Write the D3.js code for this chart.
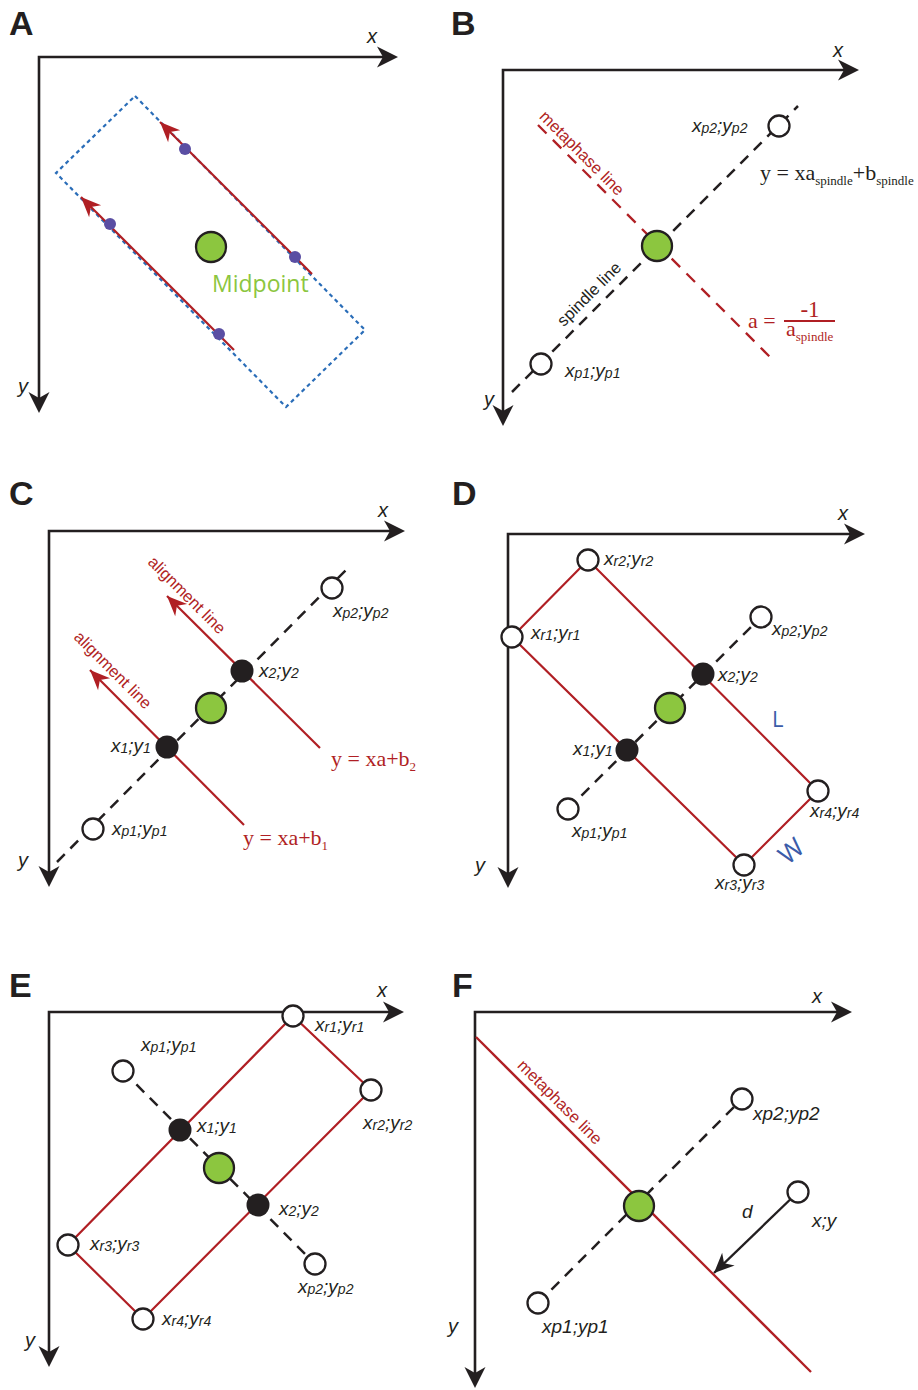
<!DOCTYPE html>
<html><head><meta charset="utf-8">
<script src="https://cdn.jsdelivr.net/npm/d3@7"></script>
<style>body{margin:0;background:#fff}</style>
</head><body>
<svg id="fig" width="918" height="1390"></svg>
<script>
// ================= DATA (diagram units, measured from each panel's axis origin) =================
const panelLetters = ["A","B","C","D","E","F"];
const axisNames = ["x","y"];

// Panel A
const aBox = [[96,39],[326,273],[247,350],[17,116]];
const aTracks = [[[273,217],[121,65]], [[195,293],[42,140]]];
const aSpots = [[146,92],[256,200],[71,167],[180,277]];
const aMidpoint = [172,190];
const aMidText = ["Midpoint"];
const aMidTextPos = [173,235];

// Panel B
const bSpindle = [[9,322],[295,36]];
const bMetaphase = [[35,55],[270,290]];
const bPoles = [[38,294],[276,56]];
const bMidpoint = [154,176];
const bPoleLabels = ["x_p1;y_p1","x_p2;y_p2"];
const bPoleLabelPos = [[62,307],[189,62]];
const bLineNames = ["metaphase line","spindle line"];
const bLineNamePos = [[75,87,45],[90,228,-45]];
const bEquation = ["y = xa_spindle+b_spindle"];
const bEquationPos = [257,110];
const bSlope = ["a =","-1","a_spindle"];
const bSlopePos = [245,258];

// Panel C
const cSpindle = [[8,331],[299,37]];
const cAlign = [[[195,294],[41,139]], [[271,217],[118,65]]];
const cAlignNames = ["alignment line","alignment line"];
const cAlignNamePos = [[60,143,45],[134,68,45]];
const cPoles = [[44,298],[283,57]];
const cPoints = [[118,216],[193,140]];
const cMidpoint = [162,177];
const cLabels = ["x_p1;y_p1","x_p2;y_p2","x_1;y_1","x_2;y_2"];
const cLabelPos = [[63,304],[284,86],[62,221],[210,146]];
const cEquations = ["y = xa+b_1","y = xa+b_2"];
const cEquationPos = [[194,314],[282,235]];

// Panel D
const dRect = [[4,103],[80,26],[310,257],[236,331]];
const dSpindle = [[60,275],[253,83]];
const dPoints = [[119,216],[195,140]];
const dMidpoint = [162,174];
const dLabels = ["x_r1;y_r1","x_r2;y_r2","x_r4;y_r4","x_r3;y_r3","x_p1;y_p1","x_p2;y_p2","x_1;y_1","x_2;y_2"];
const dLabelPos = [[23,105],[96,31],[302,283],[207,355],[64,303],[264,101],[65,221],[210,147]];
const dSides = ["L","W"];
const dSidePos = [[264,193,0],[289,324,-40]];

// Panel E
const eRect = [[244,4],[322,78],[94,307],[19,233]];
const eSpindle = [[74,59],[266,252]];
const ePoints = [[131,118],[209,193]];
const eMidpoint = [170,156];
const eLabels = ["x_r1;y_r1","x_r2;y_r2","x_r4;y_r4","x_r3;y_r3","x_p1;y_p1","x_p2;y_p2","x_1;y_1","x_2;y_2"];
const eLabelPos = [[266,19],[314,117],[113,313],[41,238],[92,39],[249,281],[148,120],[230,203]];

// Panel F
const fMetaphase = [[1,25],[336,360]];
const fMetaName = ["metaphase line"];
const fMetaNamePos = [81,94,45];
const fSpindle = [[63,291],[267,87]];
const fMidpoint = [164,194];
const fPoint = [323,180];
const fFoot = [239,261];
const fLabels = ["xp1;yp1","xp2;yp2","x;y","d"];
const fLabelPos = [[67,321],[278,108],[337,215],[267,206]];

// ================= LAYOUT & STYLE =================
const layout = {
  A:{ox:39, oy:57,  lx:359, ly:356, letter:[9,35],   xl:[328,-14], yl:[-21,336]},
  B:{ox:503,oy:70,  lx:356, ly:356, letter:[451,35], xl:[330,-13], yl:[-19,336]},
  C:{ox:49, oy:531, lx:356, ly:356, letter:[9,505],  xl:[329,-14], yl:[-31,336]},
  D:{ox:508,oy:534, lx:357, ly:354, letter:[452,505],xl:[330,-14], yl:[-33,338]},
  E:{ox:49, oy:1012,lx:355, ly:355, letter:[9,997],  xl:[328,-15], yl:[-24,335]},
  F:{ox:475,oy:1012,lx:377, ly:376, letter:[452,997],xl:[337,-9],  yl:[-27,321]}
};
const INK="#231f20", RED="#b01f24", GREEN="#8cc63f", BLUEDOT="#2a6db8", PURPLE="#5a4ea3", BLUETXT="#3b5ca9";
const SANS="'Liberation Sans', Arial, Helvetica, sans-serif";
const SERIF="'Liberation Serif', 'Times New Roman', serif";
const SOFT="'Open Sans', 'Noto Sans', sans-serif";

const svg = d3.select("#fig");

function arrowHead(g, tip, from, len, hw, notch, color){
  const dx = tip[0]-from[0], dy = tip[1]-from[1];
  const n = Math.hypot(dx,dy), ux = dx/n, uy = dy/n, px = -uy, py = ux;
  const bx = tip[0]-ux*len, by = tip[1]-uy*len;
  const nx = tip[0]-ux*(len-notch), ny = tip[1]-uy*(len-notch);
  const p = d3.path();
  p.moveTo(tip[0],tip[1]);
  p.lineTo(bx+px*hw, by+py*hw);
  p.lineTo(nx,ny);
  p.lineTo(bx-px*hw, by-py*hw);
  p.closePath();
  g.append("path").attr("d", p.toString()).attr("fill", color).attr("stroke","none");
}

function frame(id){
  const L = layout[id];
  const g = svg.append("g");
  const sx = d3.scaleLinear().domain([0,L.lx]).range([L.ox, L.ox+L.lx]);
  const sy = d3.scaleLinear().domain([0,L.ly]).range([L.oy, L.oy+L.ly]);
  const axisLine = d3.line()([[sx(0), sy(L.ly)-12],[sx(0), sy(0)],[sx(L.lx)-12, sy(0)]]);
  g.append("path").attr("d", axisLine).attr("fill","none").attr("stroke",INK)
    .attr("stroke-width",2.6).attr("stroke-linejoin","miter").attr("stroke-linecap","square");
  arrowHead(g,[sx(L.lx),sy(0)],[sx(0),sy(0)],21,10.5,6,INK);
  arrowHead(g,[sx(0),sy(L.ly)],[sx(0),sy(0)],21,10.5,6,INK);
  svg.append("text").attr("x",L.letter[0]).attr("y",L.letter[1]).text(id)
    .attr("font-family",SANS).attr("font-weight","bold").attr("font-size",34).attr("fill",INK);
  g.append("text").attr("x",sx(L.xl[0])).attr("y",sy(L.xl[1])).text(axisNames[0])
    .attr("font-family",SANS).attr("font-style","italic").attr("font-size",20).attr("fill",INK);
  g.append("text").attr("x",sx(L.yl[0])).attr("y",sy(L.yl[1])).text(axisNames[1])
    .attr("font-family",SANS).attr("font-style","italic").attr("font-size",20).attr("fill",INK);
  const P = p => [sx(p[0]), sy(p[1])];
  return {g, sx, sy, P};
}

function seg(f, pts, color, w, dash){
  const l = f.g.append("path").attr("d", d3.line()(pts.map(f.P)))
    .attr("fill","none").attr("stroke",color).attr("stroke-width",w);
  if(dash) l.attr("stroke-dasharray",dash);
  return l;
}
function poly(f, pts, color, w, dash){
  const l = f.g.append("path").attr("d", d3.line()(pts.map(f.P))+"Z")
    .attr("fill","none").attr("stroke",color).attr("stroke-width",w);
  if(dash) l.attr("stroke-dasharray",dash);
}
function openDot(f,p){ f.g.append("circle").attr("cx",f.sx(p[0])).attr("cy",f.sy(p[1])).attr("r",10.5)
  .attr("fill","#fff").attr("stroke",INK).attr("stroke-width",2.3); }
function blackDot(f,p){ f.g.append("circle").attr("cx",f.sx(p[0])).attr("cy",f.sy(p[1])).attr("r",11.5)
  .attr("fill",INK); }
function greenDot(f,p){ f.g.append("circle").attr("cx",f.sx(p[0])).attr("cy",f.sy(p[1])).attr("r",15)
  .attr("fill",GREEN).attr("stroke",INK).attr("stroke-width",2.3); }

// label with "_" subscripts
function label(f, p, str, size, subSize, subDy, family, color, italic){
  const t = f.g.append("text").attr("x",f.sx(p[0])).attr("y",f.sy(p[1]))
    .attr("font-family",family).attr("font-size",size).attr("fill",color)
    .attr("font-style", italic ? "italic" : "normal").style("white-space","pre");
  const parts = str.split(/(_[A-Za-z0-9]+)/).filter(s=>s.length);
  let shifted = false;
  parts.forEach(s=>{
    if(s[0]==="_"){
      t.append("tspan").attr("font-size",subSize).attr("dy",subDy).text(s.slice(1));
      shifted = true;
    } else {
      const ts = t.append("tspan").text(s);
      if(shifted){ ts.attr("dy",-subDy); shifted=false; }
    }
  });
  return t;
}
const ptLabel = (f,p,s)=>label(f,p,s,19,14,1,SANS,INK,true);
const eqLabel = (f,p,s)=>label(f,p,s,22,13,5,SERIF,RED,false);
function rotText(f, p, s, color){
  f.g.append("text").attr("transform",`translate(${f.sx(p[0])},${f.sy(p[1])}) rotate(${p[2]})`)
    .attr("text-anchor","middle").attr("font-family",SANS).attr("font-size",16.5).attr("fill",color).text(s);
}

// ================= PANEL A =================
{
  const f = frame("A");
  poly(f, aBox, BLUEDOT, 2.2, "4,3.5");
  aTracks.forEach(tr=>{
    seg(f, tr, RED, 2.2);
    arrowHead(f.g, f.P(tr[1]), f.P(tr[0]), 20, 8.5, 6, RED);
  });
  aSpots.forEach(p=>f.g.append("circle").attr("cx",f.sx(p[0])).attr("cy",f.sy(p[1])).attr("r",6).attr("fill",PURPLE));
  greenDot(f, aMidpoint);
  f.g.append("text").attr("x",f.sx(aMidTextPos[0])).attr("y",f.sy(aMidTextPos[1]))
    .attr("font-family",SOFT).attr("font-size",23).attr("fill",GREEN).text(aMidText[0]);
}

// ================= PANEL B =================
{
  const f = frame("B");
  seg(f, bSpindle, INK, 2.5, "11,8");
  seg(f, bMetaphase, RED, 2.3, "12,9");
  rotText(f, bLineNamePos[0], bLineNames[0], RED);
  rotText(f, bLineNamePos[1], bLineNames[1], INK);
  bPoles.forEach(p=>openDot(f,p));
  greenDot(f, bMidpoint);
  bPoleLabels.forEach((s,i)=>ptLabel(f,bPoleLabelPos[i],s));
  label(f, bEquationPos, bEquation[0], 22, 13, 5, SERIF, INK, false);
  // slope as a fraction
  const sp = bSlopePos;
  eqLabel(f, sp, bSlope[0]);
  f.g.append("line").attr("x1",f.sx(sp[0]+36)).attr("x2",f.sx(sp[0]+87))
    .attr("y1",f.sy(sp[1]-7)).attr("y2",f.sy(sp[1]-7)).attr("stroke",RED).attr("stroke-width",2);
  f.g.append("text").attr("x",f.sx(sp[0]+62)).attr("y",f.sy(sp[1]-11)).attr("text-anchor","middle")
    .attr("font-family",SERIF).attr("font-size",23).attr("fill",RED).text(bSlope[1]);
  eqLabel(f, [sp[0]+38, sp[1]+8], bSlope[2]);
}

// ================= PANEL C =================
{
  const f = frame("C");
  seg(f, cSpindle, INK, 2.5, "11,8");
  cAlign.forEach(tr=>{
    seg(f, tr, RED, 2.2);
    arrowHead(f.g, f.P(tr[1]), f.P(tr[0]), 20, 8.5, 6, RED);
  });
  cAlignNames.forEach((s,i)=>rotText(f, cAlignNamePos[i], s, RED));
  cPoles.forEach(p=>openDot(f,p));
  greenDot(f, cMidpoint);
  cPoints.forEach(p=>blackDot(f,p));
  cLabels.forEach((s,i)=>ptLabel(f,cLabelPos[i],s));
  cEquations.forEach((s,i)=>eqLabel(f,cEquationPos[i],s));
}

// ================= PANEL D =================
{
  const f = frame("D");
  poly(f, [dRect[0],dRect[1],dRect[2],dRect[3]], RED, 2.2);
  seg(f, dSpindle, INK, 2.5, "11,8");
  dRect.forEach(p=>openDot(f,p));
  dSpindle.forEach(p=>openDot(f,p));
  greenDot(f, dMidpoint);
  dPoints.forEach(p=>blackDot(f,p));
  dLabels.forEach((s,i)=>ptLabel(f,dLabelPos[i],s));
  dSides.forEach((s,i)=>{
    const p = dSidePos[i];
    f.g.append("text").attr("transform",`translate(${f.sx(p[0])},${f.sy(p[1])}) rotate(${p[2]})`)
      .attr("text-anchor", i ? "middle" : "start").attr("font-family",SOFT).attr("font-size", i ? 26 : 22)
      .attr("fill",BLUETXT).text(s);
  });
}

// ================= PANEL E =================
{
  const f = frame("E");
  poly(f, [eRect[0],eRect[1],eRect[2],eRect[3]], RED, 2.2);
  seg(f, eSpindle, INK, 2.5, "11,8");
  eRect.forEach(p=>openDot(f,p));
  eSpindle.forEach(p=>openDot(f,p));
  greenDot(f, eMidpoint);
  ePoints.forEach(p=>blackDot(f,p));
  eLabels.forEach((s,i)=>ptLabel(f,eLabelPos[i],s));
}

// ================= PANEL F =================
{
  const f = frame("F");
  seg(f, fMetaphase, RED, 2.3);
  rotText(f, fMetaNamePos, fMetaName[0], RED);
  seg(f, fSpindle, INK, 2.5, "11,8");
  fSpindle.forEach(p=>openDot(f,p));
  greenDot(f, fMidpoint);
  seg(f, [fPoint, fFoot], INK, 2.3);
  arrowHead(f.g, f.P(fFoot), f.P(fPoint), 20, 9, 6, INK);
  openDot(f, fPoint);
  fLabels.forEach((s,i)=>label(f,fLabelPos[i],s,19,14,0,SANS,INK,true));
}
</script>
</body></html>
